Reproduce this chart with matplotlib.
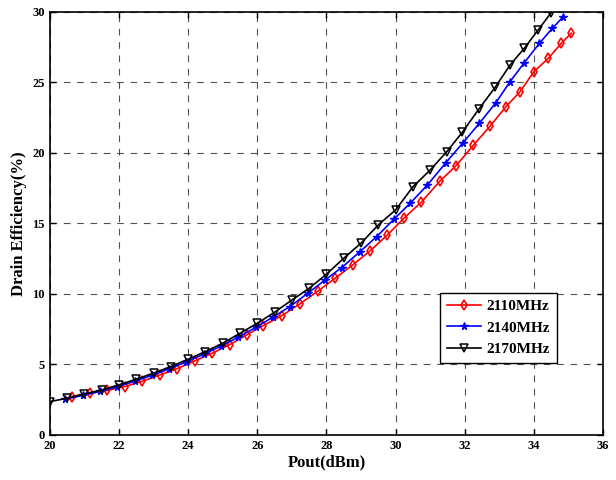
import matplotlib
matplotlib.use("Agg")
import matplotlib.pyplot as plt

plt.rcParams["font.family"] = ["Liberation Serif", "DejaVu Serif"]
plt.rcParams["font.weight"] = "bold"

# Pout (dBm) / drain efficiency (%) per carrier frequency
x_2110 = [20.63, 21.15, 21.65, 22.17, 22.67, 23.18, 23.68, 24.19, 24.70, 25.20,
          25.69, 26.17, 26.70, 27.23, 27.76, 28.25, 28.76, 29.26, 29.76, 30.24,
          30.74, 31.28, 31.75, 32.25, 32.73, 33.19, 33.60, 34.00, 34.42, 34.79,
          35.08]
y_2110 = [2.72, 2.96, 3.15, 3.43, 3.80, 4.25, 4.70, 5.25, 5.80, 6.40,
          7.09, 7.75, 8.44, 9.29, 10.21, 11.11, 12.06, 13.05, 14.18, 15.37,
          16.50, 18.00, 19.10, 20.55, 21.90, 23.28, 24.35, 25.77, 26.72, 27.78,
          28.49]

x_2140 = [20.45, 20.95, 21.45, 21.95, 22.45, 22.95, 23.45, 23.95, 24.45, 24.95,
          25.45, 25.95, 26.45, 26.94, 27.46, 27.96, 28.44, 28.97, 29.45, 29.95,
          30.42, 30.92, 31.45, 31.95, 32.42, 32.90, 33.31, 33.72, 34.16, 34.53,
          34.85]
y_2140 = [2.53, 2.80, 3.08, 3.42, 3.80, 4.22, 4.68, 5.18, 5.72, 6.30,
          6.93, 7.62, 8.35, 9.10, 10.05, 10.99, 11.87, 13.00, 14.06, 15.30,
          16.43, 17.73, 19.30, 20.73, 22.10, 23.57, 25.06, 26.40, 27.78, 28.84,
          29.67]

x_2170 = [20.0, 20.5, 21.0, 21.5, 22.0, 22.5, 23.0, 23.5, 24.0, 24.5,
          25.0, 25.5, 26.0, 26.5, 27.0, 27.5, 28.0, 28.5, 29.0, 29.5,
          30.0, 30.5, 31.0, 31.48, 31.93, 32.41, 32.88, 33.31, 33.72, 34.12,
          34.5]
y_2170 = [2.36, 2.60, 2.91, 3.19, 3.55, 3.95, 4.38, 4.85, 5.37, 5.91,
          6.50, 7.21, 7.92, 8.70, 9.57, 10.40, 11.40, 12.53, 13.60, 14.90,
          15.96, 17.60, 18.79, 20.09, 21.47, 23.12, 24.66, 26.24, 27.42, 28.72,
          29.95]

x_ticks = [20, 22, 24, 26, 28, 30, 32, 34, 36]
y_ticks = [0, 5, 10, 15, 20, 25, 30]

fig = plt.figure(figsize=(6.16, 4.8), dpi=100)
ax = fig.add_axes([0.081, 0.094, 0.898, 0.881])

ax.plot(x_2110, y_2110, "-d", color="red", lw=1.2, ms=4.8, mfc="none",
        mec="red", mew=1.2, label="2110MHz")
ax.plot(x_2140, y_2140, "-*", color="blue", lw=1.2, ms=5.5, mfc="blue",
        mec="blue", label="2140MHz")
ax.plot(x_2170, y_2170, "-v", color="black", lw=1.2, ms=6, mfc="none",
        mec="black", mew=1.1, label="2170MHz")

ax.set_xlim(20, 36)
ax.set_ylim(0, 30)
ax.set_xticks(x_ticks)
ax.set_yticks(y_ticks)
ax.tick_params(direction="in", labelsize=9, length=4, width=1,
               top=True, right=True)
for lab in ax.get_xticklabels() + ax.get_yticklabels():
    lab.set_fontweight("bold")
ax.grid(True, color="#333333", ls=(0, (6, 6)), lw=0.8, alpha=0.85)
for sp in ax.spines.values():
    sp.set_linewidth(1.2)

ax.set_xlabel("Pout(dBm)", fontsize=12, fontweight="bold", labelpad=2)
ax.set_ylabel("Drain Efficiency(%)", fontsize=12, fontweight="bold", labelpad=4)

leg = ax.legend(loc="lower right", bbox_to_anchor=(0.917, 0.17),
                borderaxespad=0, fancybox=False, edgecolor="black",
                framealpha=1, prop={"weight": "bold", "size": 11},
                handlelength=2.2, borderpad=0.45, labelspacing=0.5,
                handletextpad=0.4)
leg.get_frame().set_linewidth(1.0)

fig.savefig("out.png", facecolor="white")
